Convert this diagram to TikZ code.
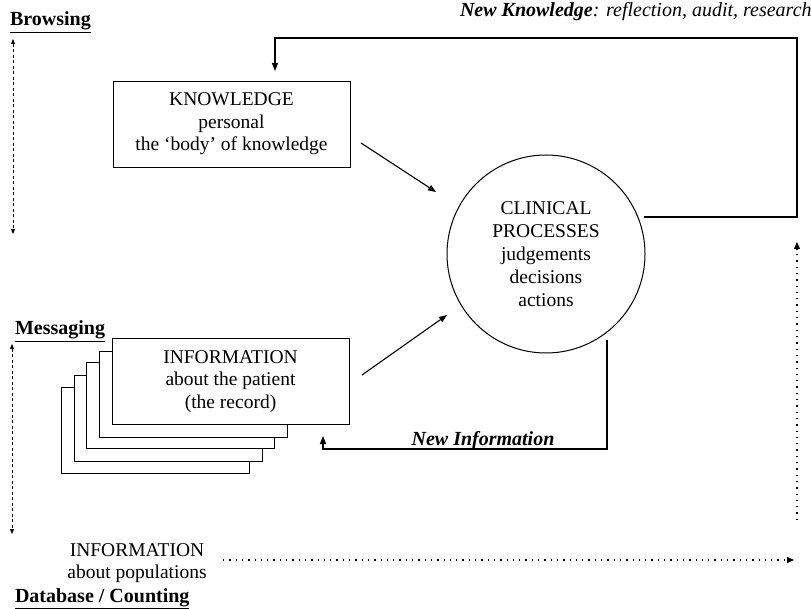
\documentclass[tikz,border=0pt]{standalone}
\usepackage{fontspec}
\setmainfont{Liberation Serif}
\usetikzlibrary{arrows.meta,calc}
\begin{document}
\begin{tikzpicture}[x=1pt,y=-1pt,
  every node/.style={inner sep=0pt, outer sep=0pt},
  txt/.style={font=\fontsize{19.5}{22.5}\selectfont, align=center},
  lbl/.style={font=\bfseries\fontsize{20}{24}\selectfont, anchor=base west},
  panel/.style={draw, line width=0.8pt, fill=white, minimum width=237pt, minimum height=86pt},
  sheet/.style={draw, line width=0.8pt, fill=white, minimum width=188pt, minimum height=86pt},
  conn/.style={line width=1.1pt, -{Triangle[length=8pt,width=6pt]}},
  axis/.style={line width=0.6pt, dash pattern=on 3pt off 2.5pt,
    {Triangle[length=5pt,width=4pt]}-{Triangle[length=5pt,width=4pt]}},
  dotarrow/.style={line width=1.3pt, dash pattern=on 1.3pt off 5pt, -{Triangle[length=7pt,width=6pt]}}]
\useasboundingbox (0,0) rectangle (811,609);

% labels on the left
\node[lbl] (browse) at (10,26) {\underline{Browsing}};
\node[lbl] (msg) at (15,335) {\underline{Messaging}};
\node[lbl] (db) at (15,602) {\underline{Database / Counting}};

% left dashed axes
\coordinate (ba1) at (13,39);
\coordinate (ba2) at (13,234);
\draw[axis] (ba1) -- (ba2);
\coordinate (ma1) at (12,344);
\coordinate (ma2) at (12,534);
\draw[axis] (ma1) -- (ma2);

% knowledge box
\node[panel, txt] (know) at (231.5,124) {KNOWLEDGE\\personal\\the `body' of knowledge};

% stacked information sheets
\node[sheet] (s4) at (155.5,430) {};
\node[sheet] (s3) at (168,418) {};
\node[sheet] (s2) at (180.5,405.5) {};
\node[sheet] (s1) at (193,394) {};
\node[panel, txt] (info) at (230.5,381.5) {INFORMATION\\about the patient\\(the record)};

% clinical processes circle
\node[circle, draw, line width=1pt, minimum size=198pt, txt, font=\fontsize{19.5}{23}\selectfont] (circ) at (546,254)
  {CLINICAL\\PROCESSES\\judgements\\decisions\\actions};

% arrows into the circle
\coordinate (k1) at (361,143);
\coordinate (k2) at (436,192);
\draw[conn] (k1) -- (k2);
\coordinate (i1) at (362,375);
\coordinate (i2) at (447,315);
\draw[conn] (i1) -- (i2);

% new knowledge feedback
\node[anchor=base west, font=\itshape\fontsize{20}{24}\selectfont] (newk) at (460,17)
  {\textbf{New Knowledge}: reflection, audit, research};
\coordinate (fb1) at (644,217);
\coordinate (fb2) at (797,217);
\coordinate (fb3) at (797,38);
\coordinate (fb4) at (275,38);
\coordinate (fb5) at (275,71);
\draw[conn] (fb1) -- (fb2) -- (fb3) -- (fb4) -- (fb5);

% new information feedback
\coordinate (ni1) at (607,340);
\coordinate (ni2) at (607,449);
\coordinate (ni3) at (323,449);
\coordinate (ni4) at (323,436);
\draw[conn] (ni1) -- (ni2) -- (ni3) -- (ni4);
\node[anchor=base, font=\bfseries\itshape\fontsize{20}{24}\selectfont] (newi) at (483,445) {New Information};

% populations
\node[txt, anchor=base, font=\fontsize{19.5}{21.5}\selectfont] (pop) at (137,578) {INFORMATION\\about populations};
\coordinate (p1) at (223,560);
\coordinate (p2) at (794,560);
\draw[dotarrow] (p1) -- (p2);
\coordinate (v1) at (797,520);
\coordinate (v2) at (797,242);
\draw[dotarrow] (v1) -- (v2);
\end{tikzpicture}
\end{document}
